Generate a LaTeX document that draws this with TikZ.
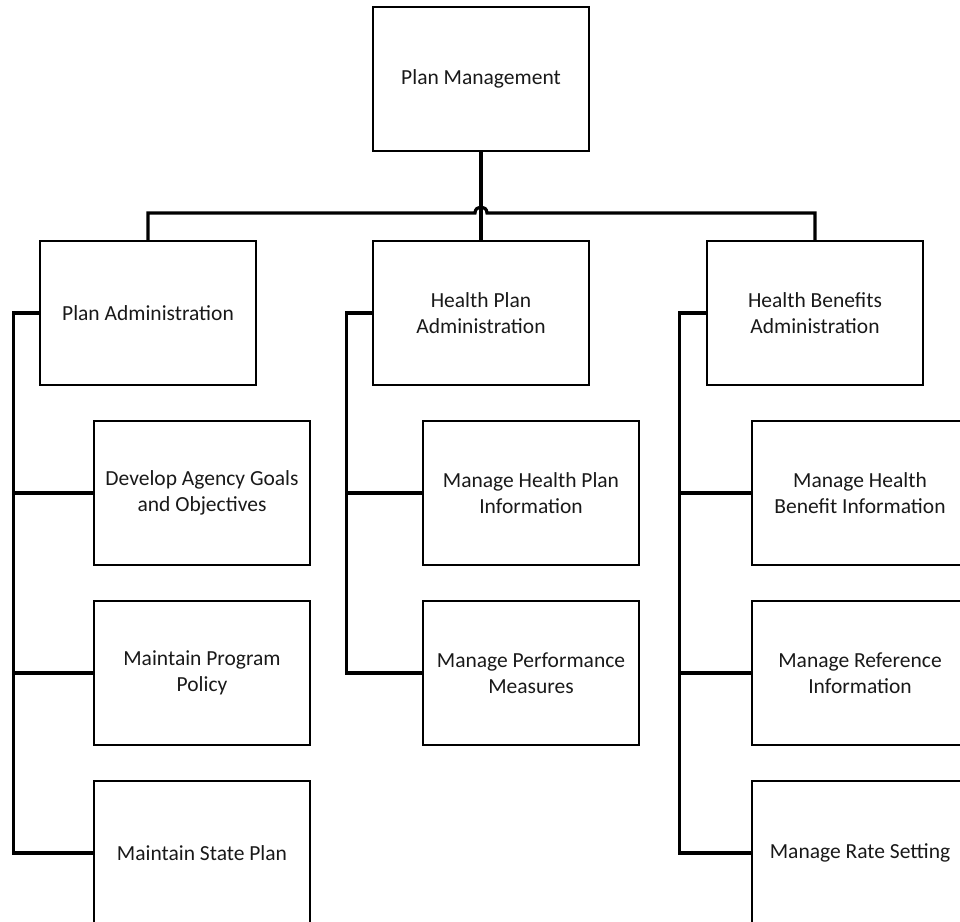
\documentclass[tikz,border=0pt]{standalone}
\usepackage{fontspec}
\setmainfont{Carlito}
\begin{document}
\begin{tikzpicture}[x=1pt,y=-1pt,
  box/.style={draw=black,line width=1.3pt,minimum width=216pt,minimum height=144pt,
    align=center,inner sep=0pt,font=\fontsize{21.5}{26}\selectfont,text=black!90},
  conn/.style={draw=black,line width=3.2pt,line cap=butt,line join=miter}]
\useasboundingbox (0,0) rectangle (960,921);
\clip (0,0) rectangle (960,921);

% top level
\node[box] (pm)  at (481,79)  {Plan Management};
\node[box] (pa)  at (148,313) {Plan Administration};
\node[box] (hpa) at (481,313) {Health Plan\\Administration};
\node[box] (hba) at (815,313) {Health Benefits\\Administration};

% plan administration branch
\node[box] (pa1) at (202,493) {Develop Agency Goals\\and Objectives};
\node[box] (pa2) at (202,673) {Maintain Program\\Policy};
\node[box] (pa3) at (202,853) {Maintain State Plan};

% health plan administration branch
\node[box] (hp1) at (531,493) {Manage Health Plan\\Information};
\node[box] (hp2) at (531,673) {Manage Performance\\Measures};

% health benefits administration branch
\node[box] (hb1) at (860,493) {Manage Health\\Benefit Information};
\node[box] (hb2) at (860,673) {Manage Reference\\Information};
\node[box] (hb3) at (860,853) {Manage Rate Setting};

% bus with a hop over the central drop
\coordinate (hopL) at (475,213);
\coordinate (hopR) at (487,213);
\draw[conn] (pa.north) |- (hopL)
  .. controls (475,205) and (487,205) .. (hopR) -| (hba.north);
\draw[conn] (pm.south) -- (hpa.north);

% left trunk
\draw[conn] (pa.west) -- ++(-26,0) |- (pa3.west);
\draw[conn] (pa1.west) -- ++(-80,0);
\draw[conn] (pa2.west) -- ++(-80,0);

% middle trunk
\draw[conn] (hpa.west) -- ++(-26,0) |- (hp2.west);
\draw[conn] (hp1.west) -- ++(-76,0);

% right trunk
\draw[conn] (hba.west) -- ++(-27,0) |- (hb3.west);
\draw[conn] (hb1.west) -- ++(-72,0);
\draw[conn] (hb2.west) -- ++(-72,0);
\end{tikzpicture}
\end{document}
